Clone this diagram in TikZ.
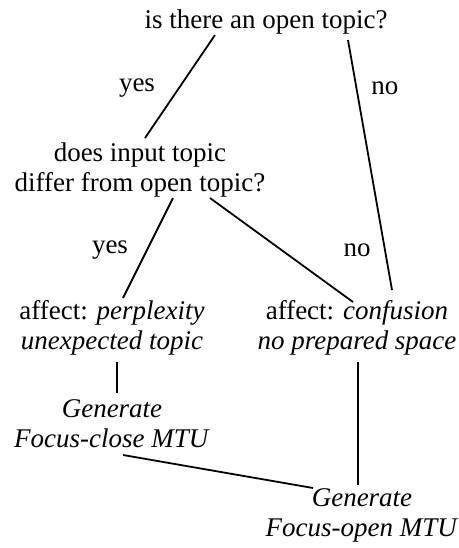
\documentclass[tikz,border=0pt]{standalone}
\usepackage{fontspec}
\setmainfont{Liberation Serif}
\usetikzlibrary{calc}
\begin{document}
\begin{tikzpicture}[x=0.5pt, y=-0.5pt, line width=0.9pt,
  every node/.style={font=\fontsize{13.5}{15}\selectfont, inner sep=1pt, align=center},
  lbl/.style={font=\fontsize{13.5}{15}\selectfont}]
  \useasboundingbox (0,0) rectangle (459,548);
  % questions
  \node (open)   at (266,22)  {is there an open topic?};
  \node (differ) at (140,170) {does input topic\\differ from open topic?};
  % answers
  \node[lbl] (yesA) at (137,88)  {yes};
  \node[lbl] (noA)  at (385,88)  {no};
  \node[lbl] (yesB) at (110,250) {yes};
  \node[lbl] (noB)  at (357,250) {no};
  % affects
  \node (perplex) at (112,328) {affect: \textit{perplexity}\\\textit{unexpected topic}};
  \node (confuse) at (357,328) {affect: \textit{confusion}\\\textit{no prepared space}};
  % generation
  \node (close) at (112,424) {\textit{Generate}\\\textit{Focus-close MTU}};
  \node (opn)   at (362,515) {\textit{Generate}\\\textit{Focus-open MTU}};
  % branches
  \draw ($(open)+(-51,13)$) -- ($(differ)+(5,-32)$);
  \draw ($(open)+(82,18)$) -- ($(confuse)+(35,-38)$);
  \draw ($(differ)+(33,28)$) -- ($(perplex)+(11,-30)$);
  \draw ($(differ)+(70,28)$) -- ($(confuse)+(-4,-26)$);
  \draw ($(perplex)+(5,34)$) -- ($(close)+(5,-31)$);
  \draw ($(confuse)+(1,34)$) -- ($(opn)+(-4,-30)$);
  \draw ($(close)+(11,31)$) -- ($(opn)+(-49,-27)$);
\end{tikzpicture}
\end{document}
